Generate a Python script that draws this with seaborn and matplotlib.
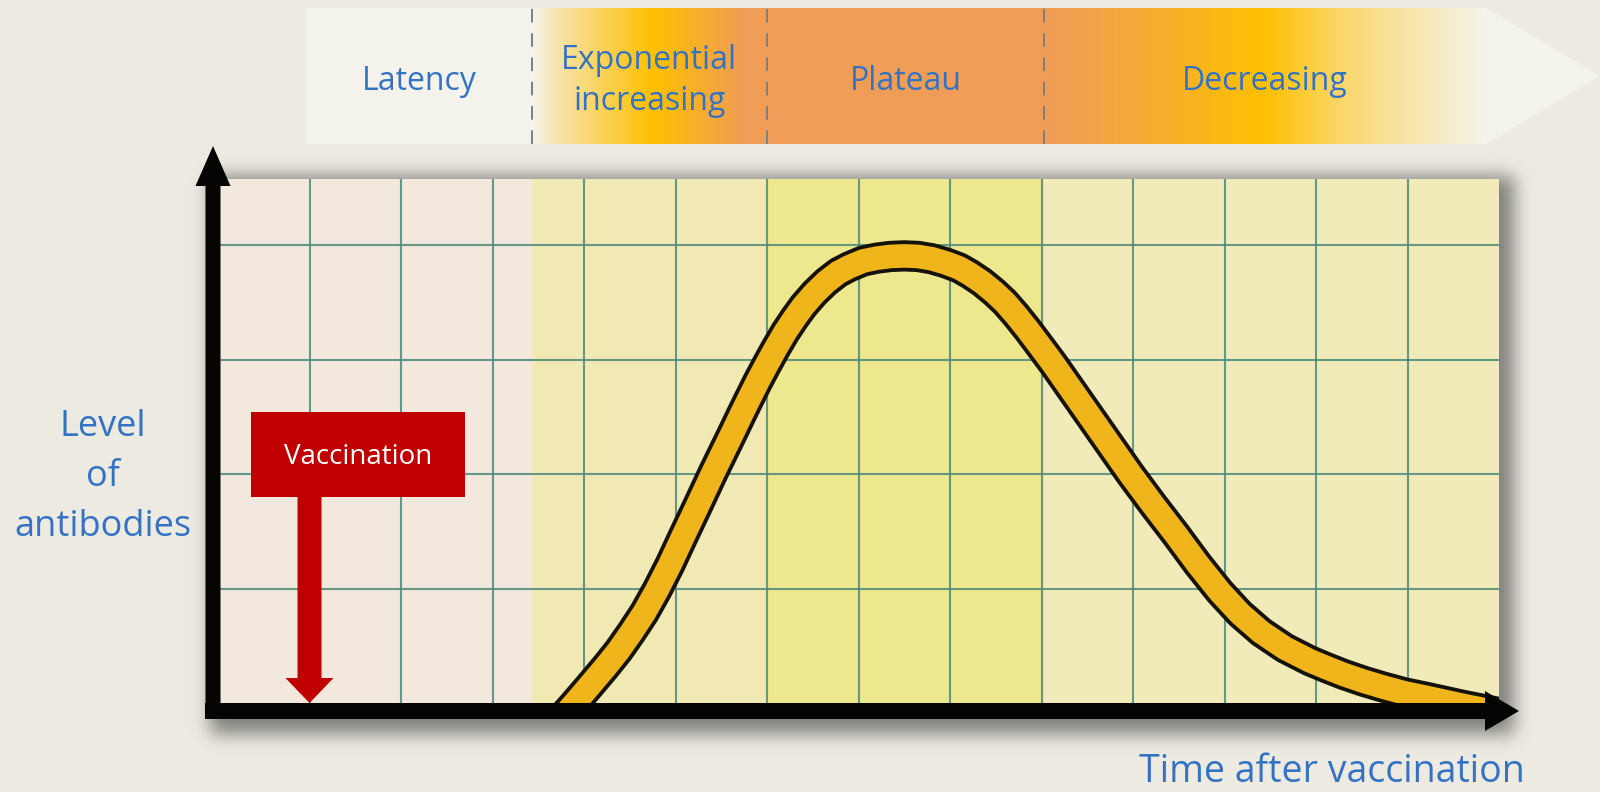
import numpy as np
import pandas as pd
import matplotlib
matplotlib.use("Agg")
import matplotlib.pyplot as plt
import seaborn as sns
from matplotlib.patches import Polygon, Rectangle, FancyArrow

# Antibody response after vaccination (x: time in grid cells, y: level in grid cells)
time_units = [3.68, 3.90, 4.05, 4.23, 4.38, 4.52, 4.66, 4.80, 4.94, 5.08, 5.24,
              5.41, 5.52, 5.63, 5.72, 5.80, 5.90, 5.98, 6.09, 6.20, 6.30, 6.40,
              6.52, 6.65, 6.78, 6.90, 7.05, 7.20, 7.35, 7.50, 7.65, 7.80, 7.95,
              8.10, 8.22, 8.35, 8.48, 8.60, 8.72, 8.85, 9.00, 9.13, 9.34, 9.55,
              9.76, 9.97, 10.22, 10.47, 10.71, 10.95, 11.17, 11.40, 11.66, 11.93,
              12.11, 12.30, 12.52, 12.73, 12.96, 13.20, 13.60, 14.10]
antibody_level = [-0.20, 0.00, 0.14, 0.31, 0.46, 0.62, 0.79, 0.99, 1.21, 1.45, 1.72,
                  2.01, 2.19, 2.37, 2.52, 2.65, 2.81, 2.93, 3.09, 3.24, 3.36, 3.47,
                  3.58, 3.68, 3.76, 3.81, 3.86, 3.885, 3.90, 3.905, 3.90, 3.88, 3.845,
                  3.80, 3.745, 3.675, 3.59, 3.50, 3.39, 3.26, 3.10, 2.96, 2.72, 2.48,
                  2.24, 2.00, 1.73, 1.47, 1.21, 0.97, 0.78, 0.62, 0.48, 0.37,
                  0.31, 0.25, 0.19, 0.14, 0.09, 0.05, -0.02, -0.10]

# Phases of the response, with their boundaries on the time axis
phase_names = ["Latency", "Exponential\nincreasing", "Plateau", "Decreasing"]
phase_edges = [0.96, 3.43, 6.00, 9.03, 13.86]
vaccination_time = 1.0

curve = pd.DataFrame({"time": time_units, "level": antibody_level})

sns.set_theme(style="white")
plt.rcParams["font.family"] = ["Open Sans", "DejaVu Sans"]

W, H = 1600, 792
BG = "#EDEBE1"
BLUE = "#3473C4"
RED = "#C00000"

fig = plt.figure(figsize=(16, 7.92), dpi=100)
fig.patch.set_facecolor(BG)

# ---- drop shadow behind the graph paper (pixel space) ----
bg = fig.add_axes([0, 0, 1, 1], zorder=0)
bg.axis("off")


def soft_band(n, lo, hi, sigma):
    idx = np.arange(n)
    box = ((idx >= lo) & (idx < hi)).astype(float)
    k = np.arange(-4 * sigma, 4 * sigma + 1)
    g = np.exp(-k ** 2 / (2.0 * sigma ** 2))
    return np.convolve(box, g / g.sum(), mode="same")


shadow = np.zeros((H, W, 4))
shadow[..., :3] = 0.22
shadow[..., 3] = 0.6 * np.outer(soft_band(H, 176, 734, 9), soft_band(W, 210, 1514, 9))
bg.imshow(shadow, extent=[0, W, H, 0], interpolation="nearest", aspect="auto")
bg.set_xlim(0, W)
bg.set_ylim(H, 0)

# ---- graph paper with the antibody curve ----
x0, x1, y0, y1 = 218, 1499, 703, 179
ax = fig.add_axes([x0 / W, 1 - y0 / H, (x1 - x0) / W, (y0 - y1) / H], zorder=1)
paper = [(0.0, phase_edges[1], "#F2E8DE"),
         (phase_edges[1], phase_edges[2], "#F1E9B4"),
         (phase_edges[2], phase_edges[3], "#EDE78E"),
         (phase_edges[3], 14.0, "#F1EBB9")]
for a, b, c in paper:
    ax.axvspan(a, b, color=c, lw=0, zorder=0)

sns.lineplot(data=curve, x="time", y="level", ax=ax, color="#15120A",
             linewidth=22.5, estimator=None, sort=False,
             solid_capstyle="butt", solid_joinstyle="round", zorder=3)
sns.lineplot(data=curve, x="time", y="level", ax=ax, color="#EFB51A",
             linewidth=17, estimator=None, sort=False,
             solid_capstyle="butt", solid_joinstyle="round", zorder=4)

ax.set_xlim(0, 14)
ax.set_ylim(0, (y0 - y1) / 114.5)
ax.set_xticks(np.arange(1, 14))
ax.set_yticks([1, 2, 3, 4])
ax.set_axisbelow("line")
ax.grid(True, color="#4D8A7C", linewidth=1.5, alpha=0.85)
ax.tick_params(length=0, labelbottom=False, labelleft=False)
ax.set_xlabel("")
ax.set_ylabel("")
for s in ax.spines.values():
    s.set_visible(False)

# vaccination marker
ax.add_patch(Rectangle((0.36, 1.80), 2.34, 0.74, color=RED, lw=0, zorder=6))
ax.add_patch(FancyArrow(vaccination_time, 1.80, 0, -1.80, width=0.262,
                        head_width=0.525, head_length=0.218,
                        length_includes_head=True, color=RED, lw=0, zorder=6))
ax.text(1.53, 2.15, "Vaccination", color="white", fontsize=20,
        ha="center", va="center", zorder=7)

# ---- phase banner above the chart (shares the time scale) ----
bax = fig.add_axes([x0 / W, 1 - 144 / H, (x1 - x0) / W, 136 / H], zorder=1)
bax.axis("off")
tip_x = (W - x0) / 91.5
banner = Polygon([(phase_edges[0], 0), (phase_edges[-1], 0), (tip_x, 0.5),
                  (phase_edges[-1], 1), (phase_edges[0], 1)], closed=True,
                 facecolor="none", edgecolor="none", clip_on=False)
bax.add_patch(banner)

stops_x = [phase_edges[0], 3.43, 3.74, 4.74, 5.75, 9.03, 9.80, 11.43, 12.31, 13.15, 13.86, tip_x]
stops_c = ["#F4F3EC", "#F4F3EC", "#F8E2A4", "#FFC000", "#EF9D57", "#EF9D57",
           "#F4A640", "#FFC000", "#FAD870", "#F7E8B4", "#F4F3EC", "#F4F3EC"]
rgb = np.array([matplotlib.colors.to_rgb(c) for c in stops_c])
gx = np.linspace(phase_edges[0], tip_x, 1500)
grad = np.stack([np.interp(gx, stops_x, rgb[:, i]) for i in range(3)], axis=-1)
im = bax.imshow(grad[None, :, :], extent=[phase_edges[0], tip_x, 0, 1],
                aspect="auto", interpolation="bilinear")
im.set_clip_box(fig.bbox)
im.set_clip_path(banner)
bax.set_xlim(0, 14)
bax.set_ylim(0, 1)

for e in phase_edges[1:-1]:
    bax.plot([e, e], [0.0, 1.0], color="#7F7F7F", lw=1.4, dashes=(7, 5.5),
             clip_on=False)

for name, a, b in zip(phase_names, phase_edges[:-1], phase_edges[1:]):
    bax.text((a + b) / 2, 0.46, name, color=BLUE, fontsize=23, ha="center",
             va="center", linespacing=1.32, clip_on=False)

# ---- axis arrows and labels (pixel space) ----
ov = fig.add_axes([0, 0, 1, 1], zorder=3)
ov.set_xlim(0, W)
ov.set_ylim(H, 0)
ov.axis("off")
ov.patch.set_alpha(0)

ov.add_patch(FancyArrow(213, 719, 0, -573, width=15, head_width=35, head_length=40,
                        length_includes_head=True, color="#060303", lw=0))
ov.add_patch(FancyArrow(205, 711, 1314, 0, width=16, head_width=40, head_length=34,
                        length_includes_head=True, color="#060303", lw=0))

for word, yy in zip(["Level", "of", "antibodies"], [427, 477, 527]):
    ov.text(103, yy, word, color=BLUE, fontsize=26, ha="center", va="center")
ov.text(1332, 772, "Time after vaccination", color=BLUE, fontsize=27,
        ha="center", va="center")

fig.savefig("out.png", dpi=100, facecolor=BG)
